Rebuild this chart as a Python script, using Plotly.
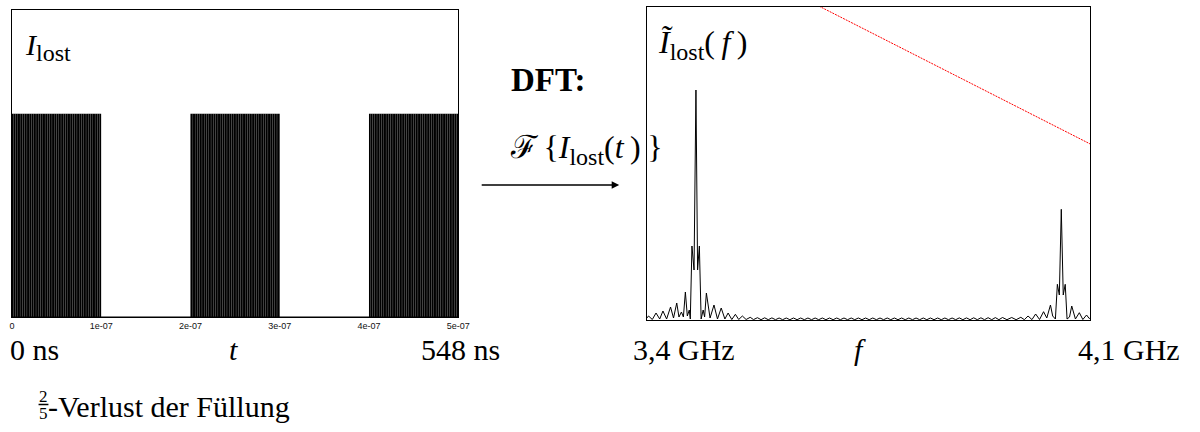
import numpy as np
import plotly.graph_objects as go

# ---------------- data ----------------
# left panel: fill pattern of the ring (filled blocks of bunches)
block_start_s = [0.0, 2e-7, 4e-7]
block_end_s = [1e-7, 3e-7, 5e-7]
bunch_spacing_s = 2e-9
bunch_current = 1.0
time_tick_vals = [0, 1e-7, 2e-7, 3e-7, 4e-7, 5e-7]
time_tick_text = ["0", "1e-07", "2e-07", "3e-07", "4e-07", "5e-07"]

# right panel: spectrum magnitude (arbitrary units) vs frequency (MHz)
freq_mhz = [
    3400.0, 3402.7, 3408.6, 3414.5, 3420.3, 3425.4, 3431.2, 3437.4, 3442.1, 3447.2,
    3450.7, 3454.6, 3457.7, 3460.8, 3463.9, 3467.0, 3468.6, 3471.2, 3474.5, 3477.5,
    3480.1, 3482.9, 3485.7, 3488.9, 3491.2, 3494.0, 3499.8, 3506.0, 3511.5, 3517.4,
    3523.2, 3528.3, 3534.1, 3539.8, 3545.0, 3550.8, 3556.7, 3563.2, 3568.4, 3574.6,
    3580.3, 3586.0, 3591.7, 3597.4, 3603.1, 3608.8, 3614.4, 3620.1, 3625.8, 3631.5,
    3637.2, 3642.9, 3648.6, 3654.3, 3660.0, 3665.7, 3671.3, 3677.0, 3682.7, 3688.4,
    3694.1, 3699.8, 3705.5, 3711.2, 3716.9, 3722.6, 3728.2, 3733.9, 3739.6, 3745.3,
    3751.0, 3756.7, 3762.4, 3768.1, 3773.8, 3779.5, 3785.1, 3790.8, 3796.5, 3802.2,
    3807.9, 3813.6, 3819.3, 3825.0, 3830.7, 3836.4, 3842.0, 3847.7, 3853.4, 3859.1,
    3864.8, 3870.5, 3876.2, 3881.9, 3887.6, 3893.3, 3898.9, 3904.6, 3910.3, 3916.0,
    3921.7, 3927.4, 3933.1, 3938.8, 3944.5, 3950.2, 3955.8, 3961.5, 3968.5, 3976.0,
    3983.0, 3990.4, 3996.0, 4001.8, 4008.0, 4013.8, 4020.0, 4026.3, 4031.4, 4037.2,
    4040.7, 4045.0, 4048.1, 4051.2, 4054.3, 4057.4, 4060.5, 4063.4, 4067.3, 4070.8,
    4076.6, 4082.8, 4088.3, 4094.2, 4098.4, 4100.0,
]
spectrum_amp = [
    2, 4, 0.5, 7, 1, 9, 1, 13, 2, 17,
    3, 8, 3, 28, 4, 10, 1, 74, 50, 230,
    50, 74, 1, 10, 3, 27, 2, 15, 1, 12,
    1, 7, 0.5, 5.7, 0.5, 4, 0.5, 2.7, 0.4, 2.3,
    0.3, 2.2, 0.3, 2.1, 0.3, 2.0, 0.3, 2.0, 0.3, 2.0,
    0.3, 2.0, 0.3, 2.0, 0.3, 2.0, 0.3, 2.0, 0.3, 2.0,
    0.3, 2.0, 0.3, 2.0, 0.3, 2.0, 0.3, 2.0, 0.3, 2.0,
    0.3, 2.0, 0.3, 2.0, 0.3, 2.0, 0.3, 2.0, 0.3, 2.0,
    0.3, 2.0, 0.3, 2.0, 0.3, 2.0, 0.3, 2.0, 0.3, 2.0,
    0.3, 2.0, 0.3, 2.0, 0.3, 2.1, 0.3, 2.1, 0.3, 2.2,
    0.3, 2.2, 0.3, 2.3, 0.3, 2.4, 0.3, 2.5, 0.3, 2.5,
    0.3, 2.7, 0.3, 4, 0.4, 6, 0.5, 8.3, 2, 15,
    4, 1, 35.7, 25, 110.7, 25, 35.7, 1, 3, 14,
    1, 7.3, 0.5, 5, 1.5, 2,
]
# red dotted reference line
red_line_f = [3600.0, 4100.0]
red_line_amp = [337.0, 176.0]

# ---------------- figure ----------------
W, H = 1200, 432
SERIF = "Liberation Serif"

bunch_t = []
for s, e in zip(block_start_s, block_end_s):
    bunch_t.extend(np.arange(s, e - 1e-12, bunch_spacing_s) + bunch_spacing_s / 2)
imp_x, imp_y = [], []
for t in bunch_t:
    imp_x += [t, t, None]
    imp_y += [0, bunch_current, None]

fig = go.Figure()
fig.add_trace(go.Scatter(x=imp_x, y=imp_y, mode="lines",
                         line=dict(color="black", width=1.75),
                         xaxis="x", yaxis="y", hoverinfo="skip", showlegend=False))
fig.add_trace(go.Scatter(x=[0, 5e-7], y=[0, 0], mode="lines",
                         line=dict(color="black", width=1),
                         xaxis="x", yaxis="y", hoverinfo="skip", showlegend=False))
fig.add_trace(go.Scatter(x=freq_mhz, y=spectrum_amp, mode="lines",
                         line=dict(color="black", width=1),
                         xaxis="x2", yaxis="y2", showlegend=False))
fig.add_trace(go.Scatter(x=red_line_f, y=red_line_amp, mode="lines",
                         line=dict(color="red", width=1, dash="2px,1px"),
                         xaxis="x2", yaxis="y2", showlegend=False))

ax_common = dict(showgrid=False, zeroline=False, showline=True, mirror=True,
                 linecolor="black", linewidth=1, fixedrange=True)

fig.update_layout(
    width=W, height=H, autosize=False,
    margin=dict(l=0, r=0, t=0, b=0),
    paper_bgcolor="white", plot_bgcolor="white",
    xaxis=dict(domain=[9 / W, 461 / W], range=[0, 5e-7],
               tickvals=time_tick_vals, ticktext=time_tick_text, ticks="",
               tickfont=dict(family="Liberation Sans", size=9, color="#111"),
               **ax_common),
    yaxis=dict(domain=[1 - 317 / H, 1 - 10 / H], range=[0, 1.51],
               showticklabels=False, ticks="", anchor="x", **ax_common),
    xaxis2=dict(domain=[652 / W, 1101 / W], range=[3400, 4100],
                showticklabels=False, ticks="", anchor="y2", **ax_common),
    yaxis2=dict(domain=[1 - 320 / H, 1 - 7 / H], range=[0, 313],
                showticklabels=False, ticks="", anchor="x2", **ax_common),
)


def ann(text, x_px, y_px, size, xanchor="left", bold=False):
    return dict(xref="paper", yref="paper", x=x_px / W, y=1 - y_px / H,
                text=("<b>%s</b>" % text) if bold else text, showarrow=False,
                font=dict(family=SERIF, size=size, color="black"),
                xanchor=xanchor, yanchor="middle")


SUB = "<sub><span style='font-size:24px'>lost</span></sub>"
annotations = [
    ann("<i>I</i>" + SUB, 20, 47, 30),
    ann("<i>Ĩ</i>" + SUB + "(\u2009<i>f</i>\u2009)", 661, 45, 32),
    ann("DFT:", 512, 80, 33, bold=True),
    ann("ℱ\u2009{<i>I</i>" + SUB + "(<i>t</i>\u2009)\u2009}", 511, 149, 32),
    ann("0 ns", 5, 349, 30),
    ann("<i>t</i>", 233, 349, 30, xanchor="center"),
    ann("548 ns", 421, 349, 30),
    ann("3,4 GHz", 636, 349, 30),
    ann("<i>f</i>", 868, 349, 30, xanchor="center"),
    ann("4,1 GHz", 1194, 349, 30, xanchor="right"),
    ann("2", 41, 396, 17, xanchor="center"),
    ann("5", 41, 413, 17, xanchor="center"),
    ann("-Verlust der Füllung", 44, 406, 30),
    dict(xref="paper", yref="paper", axref="pixel", ayref="pixel",
         x=624 / W, y=1 - 185 / H, ax=-139, ay=0,
         text="", showarrow=True, arrowhead=2, arrowsize=1, arrowwidth=1.5,
         arrowcolor="black", standoff=0, startstandoff=0),
]
fig.update_layout(annotations=annotations)
fig.add_shape(type="line", xref="paper", yref="paper",
              x0=36 / W, x1=46 / W, y0=1 - 404.5 / H, y1=1 - 404.5 / H,
              line=dict(color="black", width=1.5))

fig.write_html("out.html")
